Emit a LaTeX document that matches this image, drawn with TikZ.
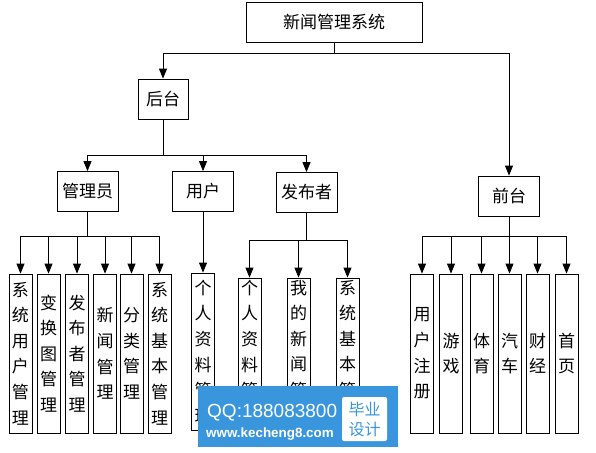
\documentclass[tikz,border=0pt]{standalone}
\usepackage{fontspec}
\newfontfamily\cjkfont{Noto Sans CJK SC}
\newfontfamily\markfont{Liberation Sans}
\usetikzlibrary{arrows.meta}
\definecolor{wmblue}{RGB}{58,150,220}

\begin{document}
\begin{tikzpicture}[x=1pt,y=-1pt,
  box/.style={draw, line width=0.8pt, inner sep=0pt, font=\cjkfont\fontsize{17}{25.6}\selectfont},
  midbox/.style={box, minimum width=61pt, minimum height=40pt},
  leaf/.style={box, minimum width=23pt, align=center},
  arr/.style={line width=0.8pt, -{Triangle[length=10pt,width=8pt]}}]
\fill[white] (0,0) rectangle (596,452);
\node[box, minimum width=176pt, minimum height=40pt] (sys) at (334,22){新闻管理系统};
\node[midbox, minimum width=50pt] (back) at (163,99){后台};
\node[midbox] (front) at (509,196){前台};
\draw[line width=0.8pt](sys.south) -- ++(0,11) coordinate (sysj);
\draw[arr](sysj) -| (back.north);
\draw[arr](sysj) -| (front.north);
% backend
\node[midbox] (admin) at (87.5,191.5){管理员};
\node[midbox] (user) at (203,191.5){用户};
\node[midbox] (pub) at (306.5,192.5){发布者};
\draw[line width=0.8pt](back.south) -- ++(0,36) coordinate (backj);
\draw[arr](backj) -| (admin.north);
\draw[arr](backj) -| (user.north);
\draw[arr](backj) -| (pub.north);
% admin
\node[leaf, minimum height=159pt] (adm1) at (20.5,353.5){系\\统\\用\\户\\管\\理};
\node[leaf, minimum height=159pt] (adm2) at (48.5,353.5){变\\换\\图\\管\\理};
\node[leaf, minimum height=159pt] (adm3) at (77,353.5){发\\布\\者\\管\\理};
\node[leaf, minimum height=159pt] (adm4) at (105,353.5){新\\闻\\管\\理};
\node[leaf, minimum height=159pt] (adm5) at (131.5,353.5){分\\类\\管\\理};
\node[leaf, minimum height=159pt] (adm6) at (159.5,353.5){系\\统\\基\\本\\管\\理};
\draw[line width=0.8pt](admin.south) -- ++(0,24) coordinate (adminj);
\draw[arr](adminj) -| (adm1.north);
\draw[arr](adminj) -| (adm2.north);
\draw[arr](adminj) -| (adm3.north);
\draw[arr](adminj) -| (adm4.north);
\draw[arr](adminj) -| (adm5.north);
\draw[arr](adminj) -| (adm6.north);
% user
\node[leaf, minimum height=157pt] (usr1) at (203,351.5){个\\人\\资\\料\\管\\理};
\draw[arr](user.south) -- (usr1.north);
% publisher
\node[leaf, minimum height=147pt] (pub1) at (249.5,351.5){个\\人\\资\\料\\管\\理};
\node[leaf, minimum height=147pt] (pub2) at (298.5,351.5){我\\的\\新\\闻\\管\\理};
\node[leaf, minimum height=147pt] (pub3) at (347.5,351.5){系\\统\\基\\本\\管\\理};
\draw[line width=0.8pt](pub.south) -- ++(0,27) coordinate (pubj);
\draw[arr](pubj) -| (pub1.north);
\draw[arr](pubj) -| (pub2.north);
\draw[arr](pubj) -| (pub3.north);
% frontend
\node[leaf, minimum height=159pt] (fr1) at (422,353.5){用\\户\\注\\册};
\node[leaf, minimum height=159pt] (fr2) at (451,353.5){游\\戏};
\node[leaf, minimum height=159pt] (fr3) at (481.5,353.5){体\\育};
\node[leaf, minimum height=159pt] (fr4) at (509.5,353.5){汽\\车};
\node[leaf, minimum height=159pt] (fr5) at (537.5,353.5){财\\经};
\node[leaf, minimum height=159pt] (fr6) at (566.5,353.5){首\\页};
\draw[line width=0.8pt](front.south) -- ++(0,20) coordinate (frontj);
\draw[arr](frontj) -| (fr1.north);
\draw[arr](frontj) -| (fr2.north);
\draw[arr](frontj) -| (fr3.north);
\draw[arr](frontj) -| (fr4.north);
\draw[arr](frontj) -| (fr5.north);
\draw[arr](frontj) -| (fr6.north);
% watermark
\fill[wmblue] (198,386) rectangle (398,447);
\node[font=\markfont\fontsize{19}{19}\selectfont, text=white, anchor=base west, inner sep=0pt] (qq) at (207,417){QQ:188083800};
\node[font=\markfont\bfseries\fontsize{13.4}{13.4}\selectfont, text=white, anchor=base west, inner sep=0pt] (web) at (206,437){www.kecheng8.com};
\node[fill=white, rounded corners=2pt, minimum width=45pt, minimum height=44pt, inner sep=0pt, text=wmblue, align=center, font=\cjkfont\fontsize{16}{20}\selectfont] (tag) at (364.5,419){毕业\\设计};
\end{tikzpicture}
\end{document}
